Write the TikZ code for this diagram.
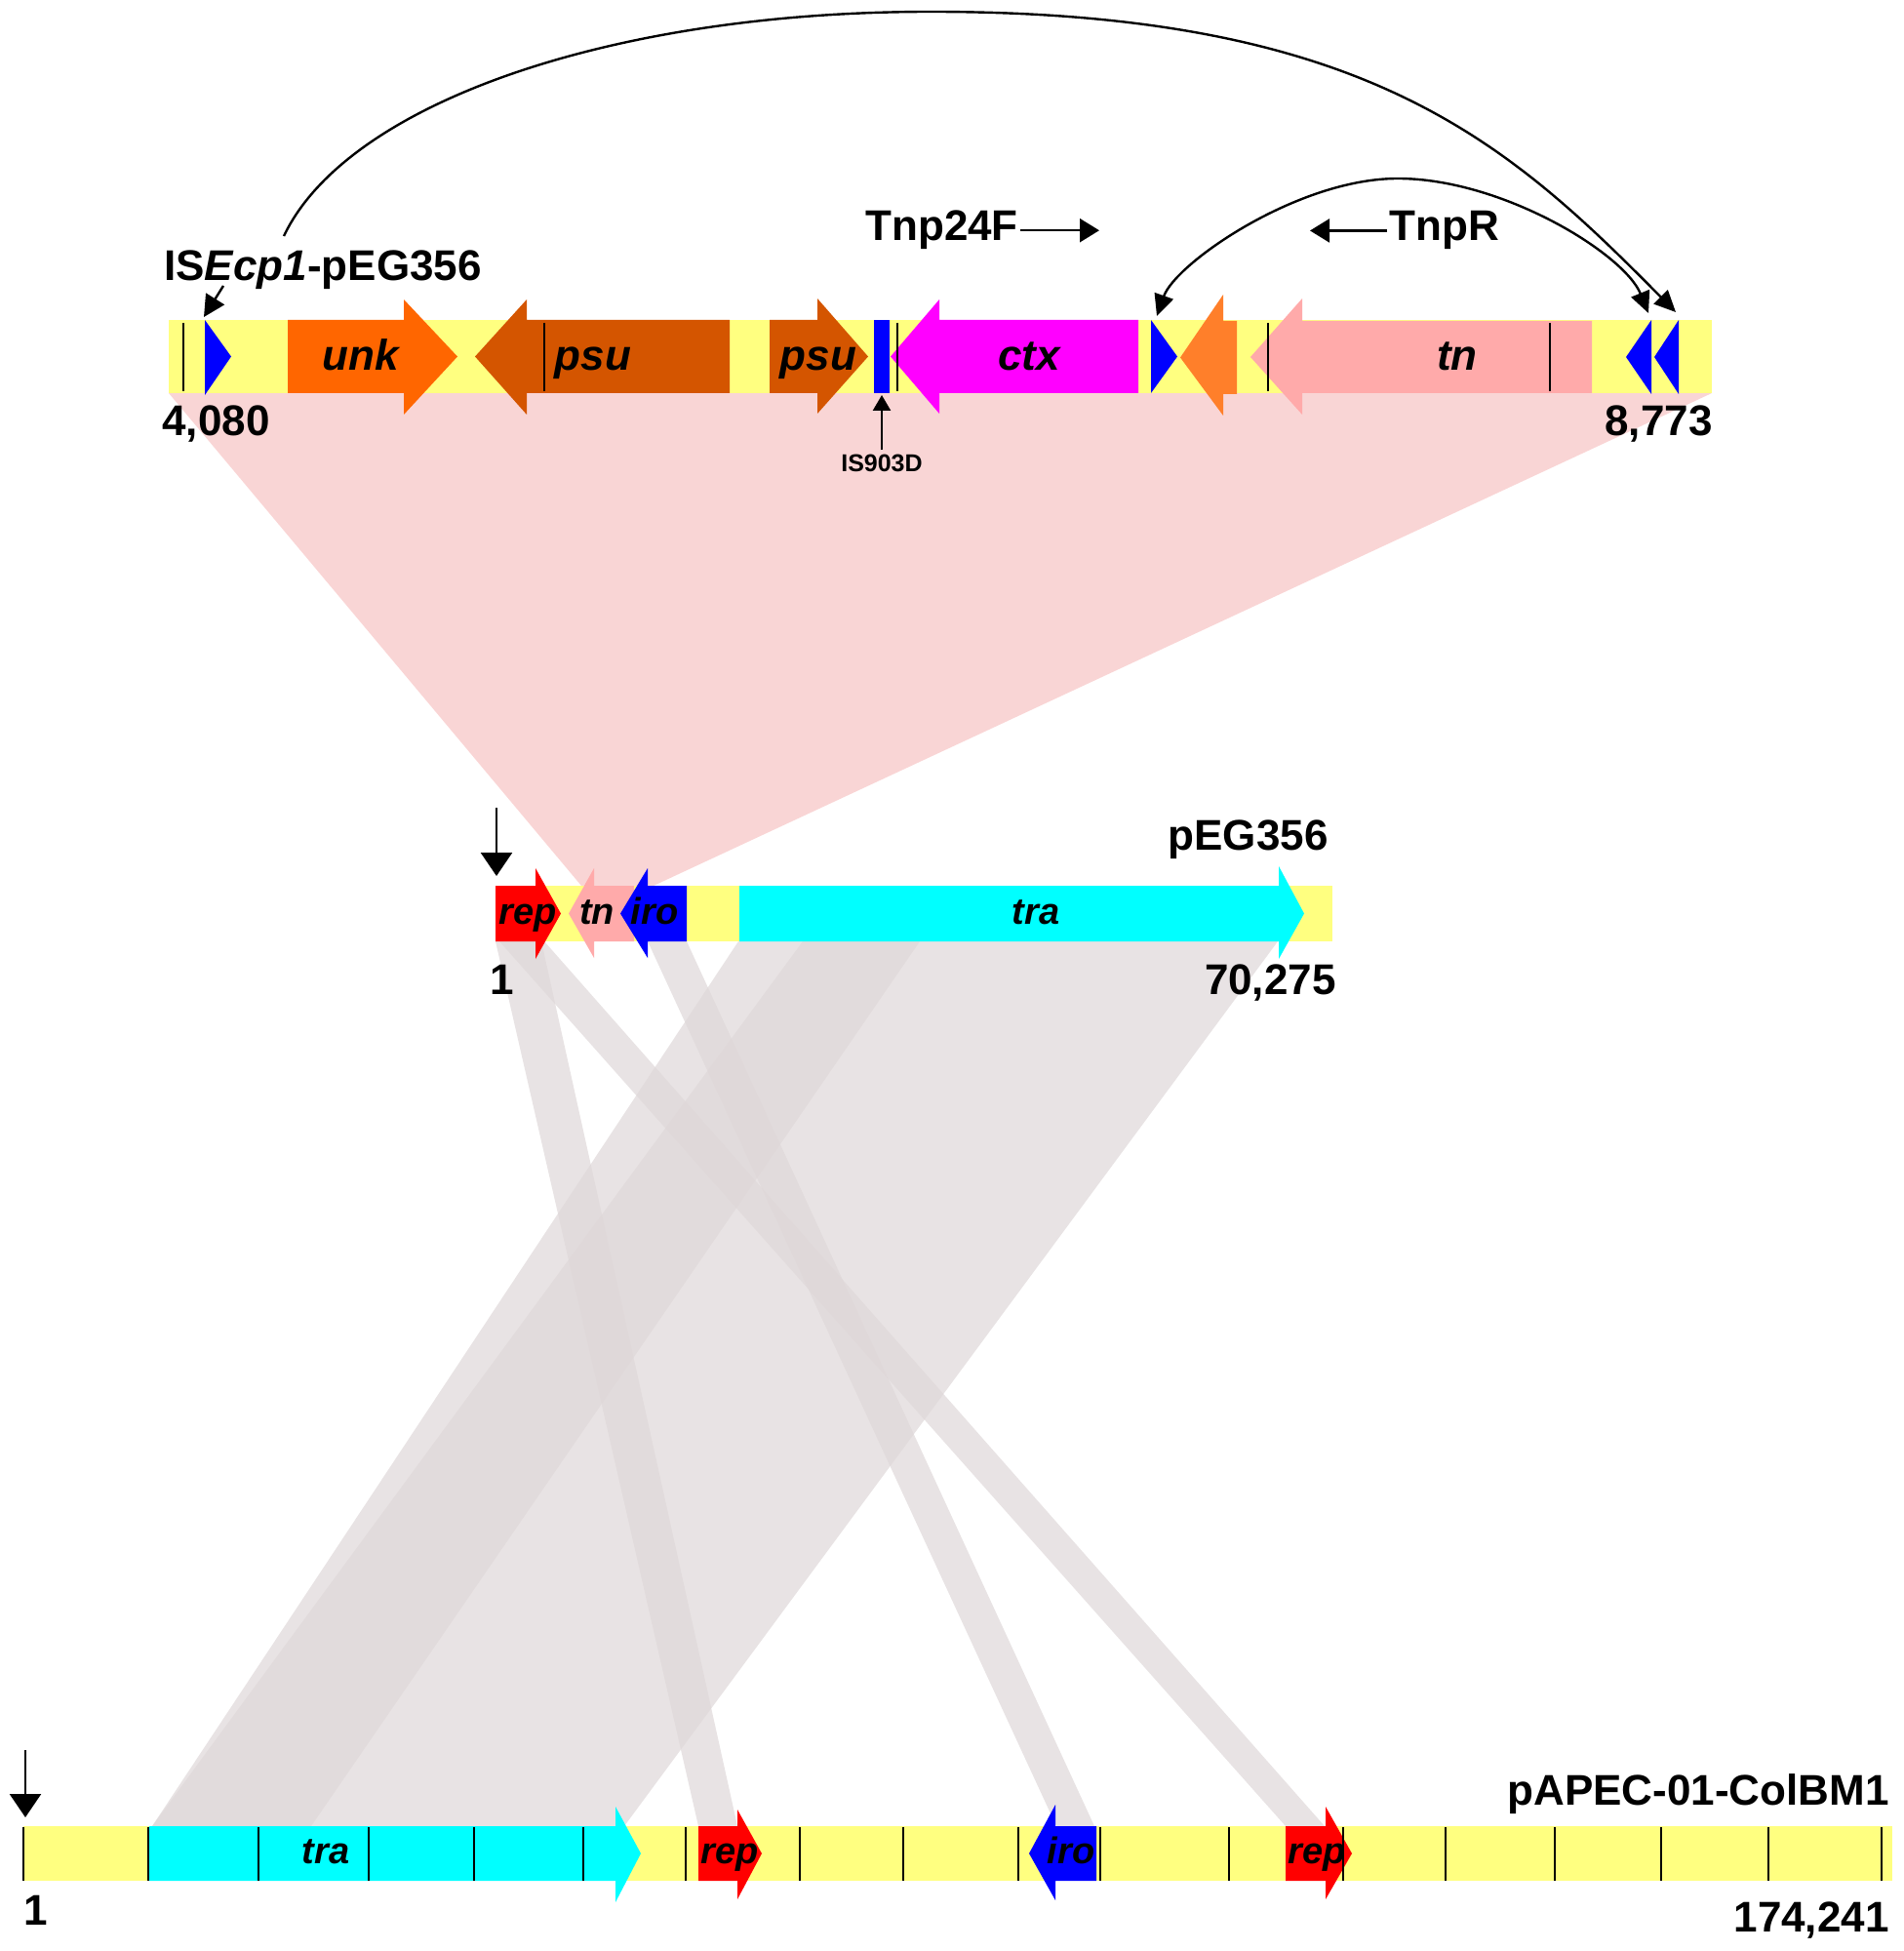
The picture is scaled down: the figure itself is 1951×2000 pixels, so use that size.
\documentclass[tikz,border=0pt]{standalone}
\usepackage{fontspec}
\setmainfont{Liberation Sans}
\usetikzlibrary{arrows.meta}
\definecolor{baryel}{RGB}{255,255,128}
\definecolor{unkc}{RGB}{255,102,0}
\definecolor{psuc}{RGB}{212,85,0}
\definecolor{ctxc}{RGB}{255,0,255}
\definecolor{isblue}{RGB}{0,0,255}
\definecolor{orc}{RGB}{255,127,42}
\definecolor{tnc}{RGB}{255,170,170}
\definecolor{repc}{RGB}{255,0,0}
\definecolor{trac}{RGB}{0,255,255}
\definecolor{pinkband}{RGB}{249,213,213}
\definecolor{grayband}{RGB}{222,215,216}
% gene arrow: body end, head base, tip, bar top, bar bottom, head top, head bottom, colour
\newcommand{\genearrow}[8]{\fill[#8] (#1,#4) -- (#2,#4) -- (#2,#6) -- (#3,{(#4+#5)/2}) -- (#2,#7) -- (#2,#5) -- (#1,#5) -- cycle;}
\begin{document}
\begin{tikzpicture}[x=0.5pt,y=-0.5pt,
  lbl/.style={font=\bfseries\fontsize{22}{24}\selectfont, inner sep=0pt},
  gl/.style={font=\bfseries\itshape\fontsize{22}{24}\selectfont, inner sep=0pt, anchor=base},
  gls/.style={font=\bfseries\itshape\fontsize{19}{21}\selectfont, inner sep=0pt, anchor=base},
  tk/.style={line width=1.2pt, black},
  band/.style={fill=grayband, fill opacity=0.7},
  con/.style={line width=1.2pt, black},
  arctip/.style={-{Triangle[length=11pt,width=10pt]}},
  bar/.style={fill=baryel}]
\useasboundingbox (0,0) rectangle (1951,2000);

% ---- alignment bands ----
\fill[pinkband] (173,403) -- (1755,403) -- (670,908) -- (596,908) -- cycle;
\fill[band] (757,965) -- (943,965) -- (319,1872) -- (156,1872) -- cycle;
\fill[band] (823,965) -- (1310,965) -- (640,1872) -- (156,1872) -- cycle;
\fill[band] (508,965) -- (555,965) -- (756,1872) -- (716,1872) -- cycle;
\fill[band] (512,965) -- (558,965) -- (1358,1872) -- (1318,1872) -- cycle;
\fill[band] (664,965) -- (704,965) -- (1122,1872) -- (1083,1872) -- cycle;

% ---- top track: ISEcp1-pEG356 ----
\fill[bar] (173,328) rectangle (1755,403);
\fill[isblue] (210,328) -- (237,365.5) -- (210,405) -- cycle;
\genearrow{295}{414}{469}{328}{403}{307}{425}{unkc}
\genearrow{748}{540}{487}{328}{403}{307}{425}{psuc}
\genearrow{789}{838}{890}{328}{403}{306}{424}{psuc}
\fill[isblue] (896,328) rectangle (912,403);
\genearrow{1167}{963}{913}{328}{403}{307}{424}{ctxc}
\fill[isblue] (1180,328) -- (1207,365.5) -- (1180,403) -- cycle;
\genearrow{1268}{1254}{1210}{329}{404}{302}{426}{orc}
\genearrow{1632}{1335}{1282}{329}{403}{306}{425}{tnc}
\fill[isblue] (1693,328) -- (1667,366) -- (1693,404) -- cycle;
\fill[isblue] (1721,328) -- (1696,366) -- (1721,404) -- cycle;
\foreach \x in {188,558,920,1300,1589} \draw[tk] (\x,331) -- (\x,401);

\node[gl] (gunk) at (370,380) {unk};
\node[gl] (gpsuA) at (608,380) {psu};
\node[gl] (gpsuB) at (839,380) {psu};
\node[gl] (gctx) at (1055,380) {ctx};
\node[gl] (gtnA) at (1494,380) {tn};

% ---- middle track: pEG356 ----
\fill[bar] (508,908) rectangle (1366,965);
\genearrow{508}{549}{575}{908}{965}{890}{983}{repc}
\genearrow{650}{609}{583}{908}{965}{890}{982}{tnc}
\genearrow{704}{664}{636}{908}{965}{890}{982}{isblue}
\genearrow{758}{1311}{1337}{908}{965}{888}{983}{trac}

\node[gls] (grepA) at (541,947) {rep};
\node[gls] (gtnB) at (612,947) {tn};
\node[gls] (giroA) at (671,947) {iro};
\node[gls] (gtraA) at (1062,947) {tra};

% ---- bottom track: pAPEC-01-ColBM1 ----
\fill[bar] (24,1872) rectangle (1940,1928);
\genearrow{153}{631}{657}{1872}{1928}{1852}{1950}{trac}
\genearrow{716}{756}{781}{1872}{1928}{1855}{1947}{repc}
\genearrow{1124}{1082}{1055}{1872}{1928}{1850}{1948}{isblue}
\genearrow{1318}{1359}{1386}{1872}{1928}{1852}{1947}{repc}
\foreach \x in {24,152,265,378,486,598,703,820,926,1044,1128,1260,1377,1482,1594,1703,1813,1929}
  \draw[tk] (\x,1873) -- (\x,1928);

\node[gls] (gtraB) at (334,1910) {tra};
\node[gls] (grepB) at (748,1910) {rep};
\node[gls] (giroB) at (1098,1910) {iro};
\node[gls] (grepC) at (1350,1910) {rep};

% ---- labels ----
\node[lbl, anchor=base west] (isecp) at (168,288) {IS\textit{Ecp1}-pEG356};
\node[lbl, anchor=base west] (tnpf) at (887,247) {Tnp24F};
\node[lbl, anchor=base west] (tnpr) at (1424,247) {TnpR};
\node[lbl, anchor=base west] (n4080) at (166,446) {4,080};
\node[lbl, anchor=base east] (n8773) at (1756,446) {8,773};
\node[font=\bfseries\fontsize{12.5}{14}\selectfont, inner sep=0pt, anchor=base] (is903) at (904,483) {IS903D};
\node[lbl, anchor=base east] (peg) at (1362,871) {pEG356};
\node[lbl, anchor=base] (mone) at (515,1019) {1};
\node[lbl, anchor=base east] (n70275) at (1370,1019) {70,275};
\node[lbl, anchor=base east] (papec) at (1937,1850) {pAPEC-01-ColBM1};
\node[lbl, anchor=base] (bone) at (37,1973) {1};
\node[lbl, anchor=base east] (n174241) at (1937,1980) {174,241};

% ---- connectors ----
\coordinate (bigS) at (291,242);
\coordinate (bigT) at (954,12);
\coordinate (bigE) at (1718,320);
\draw[con, arctip] (bigS) .. controls (355,107) and (624,12) .. (bigT)
  .. controls (1400,12) and (1545,145) .. (bigE);
\coordinate (smS) at (1186,324);
\coordinate (smT) at (1433,183);
\coordinate (smE) at (1690,321);
\draw[con, {Triangle[length=11pt,width=10pt]}-{Triangle[length=11pt,width=10pt]}] (smS) .. controls (1205,270) and (1330,183) .. (smT)
  .. controls (1540,183) and (1665,260) .. (smE);
\coordinate (isA) at (229,293);
\coordinate (isB) at (209,325);
\draw[con, -{Triangle[length=11pt,width=11pt]}] (isA) -- (isB);
\coordinate (tnpfE) at (1127,0);
\draw[con, -{Triangle[length=10pt,width=12pt]}] ([xshift=1pt]tnpf.east) -- (tnpf.east -| tnpfE);
\coordinate (tnprE) at (1343,0);
\draw[con, -{Triangle[length=10pt,width=12pt]}] ([xshift=-1pt]tnpr.west) -- (tnpr.west -| tnprE);
\coordinate (is903E) at (904,405);
\draw[con, -{Triangle[length=8pt,width=9pt]}] ([yshift=2pt]is903.north) -- (is903E);
\coordinate (mdA) at (509,828);
\coordinate (mdB) at (509,898);
\draw[con, -{Triangle[length=12pt,width=16pt]}] (mdA) -- (mdB);
\coordinate (bdA) at (26,1794);
\coordinate (bdB) at (26,1863);
\draw[con, -{Triangle[length=12pt,width=16pt]}] (bdA) -- (bdB);
\end{tikzpicture}
\end{document}
